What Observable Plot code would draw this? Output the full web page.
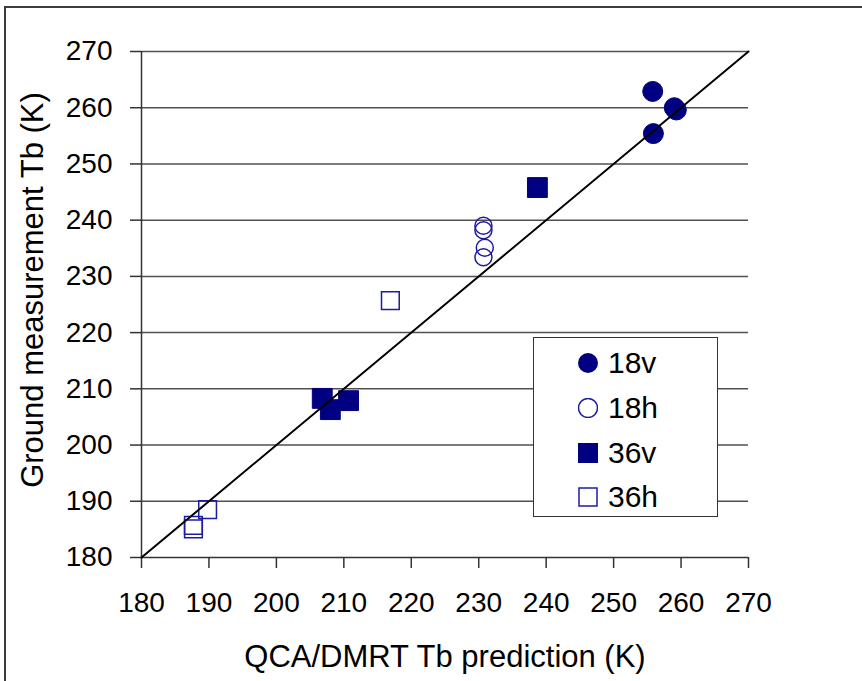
<!DOCTYPE html>
<html><head><meta charset="utf-8">
<script src="https://cdn.jsdelivr.net/npm/d3@7"></script>
<script src="https://cdn.jsdelivr.net/npm/@observablehq/plot@0.6"></script>
<style>
body{margin:0;background:#fff;font-family:"Liberation Sans",Arial,sans-serif;overflow:hidden}
#wrap{position:relative;width:862px;height:681px;overflow:hidden}
#frame{position:absolute;left:4px;top:6px;width:900px;height:700px;border-left:2px solid #3c3c3c;border-top:2px solid #3c3c3c}
#chart{position:absolute;left:0;top:0}
#chart g[aria-label="x-axis tick label"], #chart g[aria-label="y-axis tick label"]{font-size:28px !important}
#chart g[aria-label="x-axis tick label"] text, #chart g[aria-label="y-axis tick label"] text{font-size:28px !important}
#legend{position:absolute;left:533px;top:337px;width:183px;height:178px;border:1.5px solid #333;background:#fff}
.item{position:absolute;left:0;height:40px;display:flex;align-items:center;font-size:30px;color:#000}
.item svg{margin-left:44px;margin-right:10px}
</style></head>
<body>
<div id="wrap"><div id="frame"></div><div id="chart"></div><div id="legend"></div></div>
<script>
const xTicks = [180,190,200,210,220,230,240,250,260,270];
const yTicks = [180,190,200,210,220,230,240,250,260,270];
const oneToOne = [180, 270];

const seriesNames = ["18v","18h","36v","36h"];
const x18v = [255.8, 259.0, 259.3, 255.9];
const y18v = [262.9, 260.0, 259.6, 255.4];
const x18h = [230.7, 230.7, 230.9, 230.7];
const y18h = [239.0, 238.2, 235.1, 233.4];
const x36v = [238.7, 206.8, 208.0, 210.7];
const y36v = [245.8, 208.3, 206.3, 207.9];
const x36h = [216.9, 189.8, 187.7, 187.7];
const y36h = [225.7, 188.5, 185.7, 185.1];

const xTitle = "QCA/DMRT Tb prediction (K)";
const yTitle = "Ground measurement Tb (K)";

const navy = "#000080";
const pts = (xs, ys) => xs.map((x, i) => ({x, y: ys[i]}));
const d18v = pts(x18v, y18v), d18h = pts(x18h, y18h), d36v = pts(x36v, y36v), d36h = pts(x36h, y36h);
const line = oneToOne.map(v => ({x: v, y: v}));

const chart = Plot.plot({
  width: 862, height: 681,
  marginLeft: 141, marginRight: 114, marginTop: 51, marginBottom: 124,
  style: {fontFamily: "'Liberation Sans', Arial, sans-serif", fontSize: "28px", color: "#000", background: "transparent", overflow: "visible"},
  x: {domain: [180, 270], label: null},
  y: {domain: [180, 270], label: null},
  marks: [
    Plot.ruleY(yTicks.slice(1), {stroke: "#505050", strokeWidth: 1.5}),
    Plot.axisX({ticks: xTicks, tickSize: 11, tickPadding: 24, label: null, stroke: "#333", strokeWidth: 1.5, fontSize: 28, tickFormat: d => String(d)}),
    Plot.axisY({ticks: yTicks, tickSize: 11, tickPadding: 18, label: null, stroke: "#333", strokeWidth: 1.5, fontSize: 28, tickFormat: d => String(d)}),
    Plot.ruleX([180], {stroke: "#333", strokeWidth: 1.5}),
    Plot.ruleY([180], {stroke: "#333", strokeWidth: 1.5}),
    Plot.dot(d18v, {x: "x", y: "y", symbol: "circle", r: 10, fill: navy, stroke: navy, strokeWidth: 1}),
    Plot.dot(d18h, {x: "x", y: "y", symbol: "circle", r: 8.5, fill: "none", stroke: "#1c1ca0", strokeWidth: 1.5}),
    Plot.dot(d36v, {x: "x", y: "y", symbol: "square", r: 11.2, fill: navy, stroke: navy, strokeWidth: 1}),
    Plot.dot(d36h, {x: "x", y: "y", symbol: "square", r: 10, fill: "none", stroke: "#1c1ca0", strokeWidth: 1.5}),
    Plot.line(line, {x: "x", y: "y", stroke: "#000", strokeWidth: 2})
  ]
});
document.getElementById("chart").appendChild(chart);

const svg = d3.select(chart);
svg.append("text").attr("x", 445).attr("y", 667).attr("text-anchor", "middle")
  .style("font-size", "31px").attr("fill", "#000").text(xTitle);
svg.append("text").attr("transform", "translate(43,290) rotate(-90)").attr("text-anchor", "middle")
  .style("font-size", "31px").attr("fill", "#000").text(yTitle);

// legend
const legend = document.getElementById("legend");
const styles = [
  {sym: "circle", fill: navy, stroke: navy},
  {sym: "circle", fill: "none", stroke: "#1c1ca0"},
  {sym: "square", fill: navy, stroke: navy},
  {sym: "square", fill: "none", stroke: "#1c1ca0"}
];
const tops = [5, 50, 95, 139];
seriesNames.forEach((name, i) => {
  const it = document.createElement("div");
  it.className = "item";
  it.style.top = tops[i] + "px";
  const s = styles[i];
  const shape = s.sym === "circle"
    ? `<circle cx="10" cy="10" r="${s.fill === "none" ? 9.5 : 10}" fill="${s.fill}" stroke="${s.stroke}" stroke-width="${s.fill === "none" ? 1.5 : 0}"/>`
    : `<rect x="${s.fill === "none" ? 1 : 0}" y="${s.fill === "none" ? 1 : 0}" width="${s.fill === "none" ? 18 : 20}" height="${s.fill === "none" ? 18 : 20}" fill="${s.fill}" stroke="${s.stroke}" stroke-width="${s.fill === "none" ? 1.5 : 0}"/>`;
  it.innerHTML = `<svg width="20" height="20">${shape}</svg><span>${name}</span>`;
  legend.appendChild(it);
});
</script>
</body></html>
